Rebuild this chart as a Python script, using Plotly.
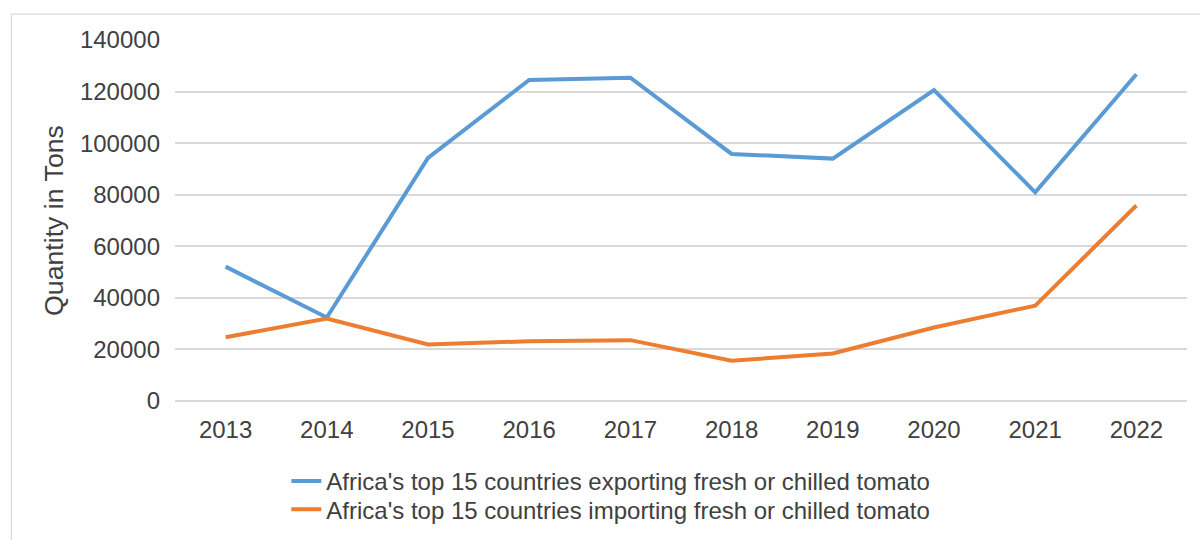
import plotly.graph_objects as go

# Annual tomato trade volumes (tons)
years = ["2013", "2014", "2015", "2016", "2017", "2018", "2019", "2020", "2021", "2022"]
exports_tons = [52100, 32400, 94300, 124500, 125400, 95800, 94000, 120600, 80900, 126700]
imports_tons = [24700, 32000, 21900, 23200, 23600, 15600, 18400, 28500, 37000, 75800]

export_name = "Africa's top 15 countries exporting fresh or chilled tomato"
import_name = "Africa's top 15 countries importing fresh or chilled tomato"

BLUE = "#5B9BD5"
ORANGE = "#ED7D31"
GRID = "#D9D9D9"
TEXT = "#404040"
FONT = "Arial, 'Liberation Sans', sans-serif"

fig = go.Figure()
fig.add_trace(go.Scatter(x=years, y=exports_tons, mode="lines", name=export_name,
                         line=dict(color=BLUE, width=4), legend="legend"))
fig.add_trace(go.Scatter(x=years, y=imports_tons, mode="lines", name=import_name,
                         line=dict(color=ORANGE, width=4), legend="legend2"))

legend_common = dict(
    font=dict(family=FONT, size=24, color=TEXT),
    bgcolor="rgba(0,0,0,0)",
    borderwidth=0,
    xref="paper", yref="paper",
    xanchor="left", yanchor="middle",
    itemclick=False, itemdoubleclick=False,
)

fig.update_layout(
    width=1200, height=540,
    margin=dict(l=175, r=13, t=40, b=139, autoexpand=False),
    paper_bgcolor="white",
    plot_bgcolor="white",
    font=dict(family=FONT, size=24, color=TEXT),
    showlegend=True,
    legend=dict(x=0.110, y=-0.223, **legend_common),
    legend2=dict(x=0.110, y=-0.301, **legend_common),
    xaxis=dict(
        type="category",
        range=[-0.5, len(years) - 0.5],
        automargin=False,
        showgrid=False,
        showline=False,
        zeroline=False,
        ticks="",
        ticklabelstandoff=12,
        tickfont=dict(family=FONT, size=24, color=TEXT),
    ),
    yaxis=dict(
        range=[0, 140000],
        dtick=20000,
        tickformat="d",
        automargin=False,
        showgrid=True,
        gridcolor=GRID,
        gridwidth=1.5,
        zeroline=True,
        zerolinecolor=GRID,
        zerolinewidth=1.5,
        showline=False,
        ticks="",
        ticklabelstandoff=14,
        tickfont=dict(family=FONT, size=24, color=TEXT),
        title=dict(text="Quantity in Tons", standoff=8,
                   font=dict(family=FONT, size=26.7, color=TEXT)),
    ),
    shapes=[
        dict(type="rect", xref="paper", yref="paper",
             x0=-0.1617, x1=1.2, y0=-0.45, y1=1.0715,
             line=dict(color=GRID, width=1.2), fillcolor="rgba(0,0,0,0)", layer="below"),
    ],
)

fig.write_html("out.html")
